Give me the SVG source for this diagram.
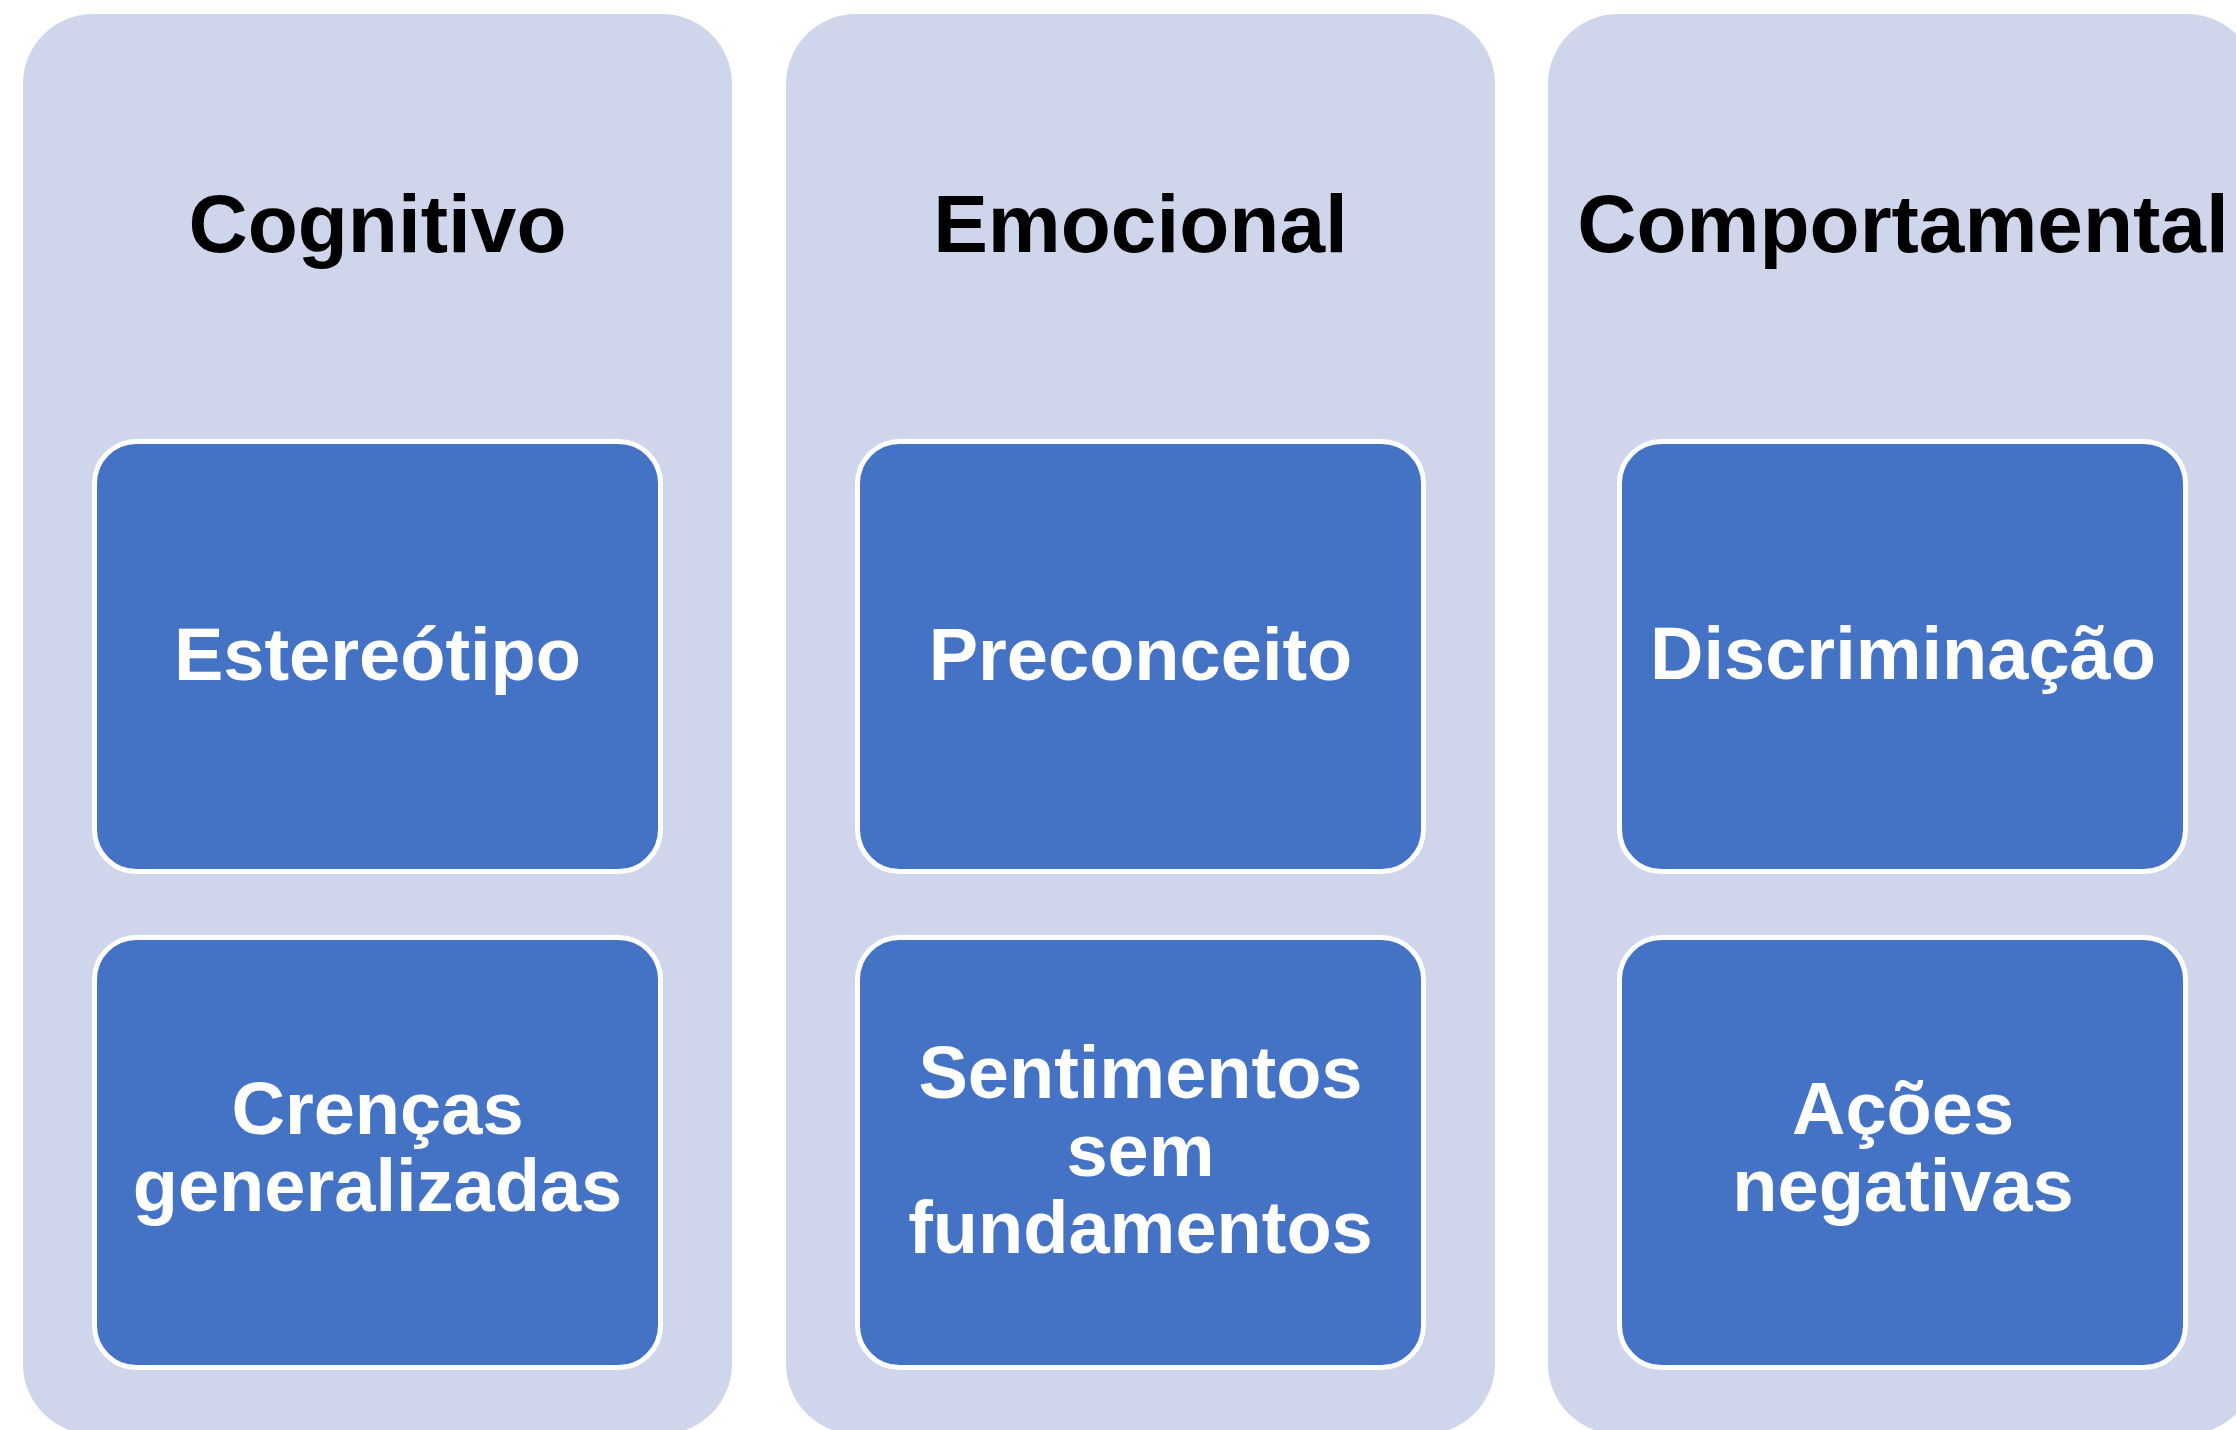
<svg xmlns="http://www.w3.org/2000/svg" width="2236" height="1430" viewBox="0 0 2236 1430">
<style>
.col{fill:#CFD5EA;}
.box{fill:#4472C4;stroke:#FFFFFF;stroke-width:5;}
.hdr{font-family:"Liberation Sans",Arial,sans-serif;font-weight:bold;font-size:82px;fill:#000000;text-anchor:middle;}
.lbl{font-family:"Liberation Sans",Arial,sans-serif;font-weight:bold;font-size:74px;fill:#FFFFFF;text-anchor:middle;}
</style>
<rect width="2236" height="1430" fill="#FFFFFF"/>
<g id="col-cognitivo">
<rect class="col" x="23" y="14" width="709" height="1420" rx="70" ry="70"/>
<text class="hdr" x="377.5" y="252">Cognitivo</text>
</g>
<g id="col-emocional">
<rect class="col" x="786" y="14" width="709" height="1420" rx="70" ry="70"/>
<text class="hdr" x="1140.5" y="252">Emocional</text>
</g>
<g id="col-comportamental">
<rect class="col" x="1548" y="14" width="709" height="1420" rx="70" ry="70"/>
<text class="hdr" x="1903" y="252">Comportamental</text>
</g>
<g id="connectors"></g>
<g id="node-estereotipo">
<rect class="box" x="94.5" y="441.5" width="566" height="430" rx="42" ry="42"/>
<text class="lbl" x="377.5" y="680">Estereótipo</text>
</g>
<g id="node-crencas">
<rect class="box" x="94.5" y="937.5" width="566" height="430" rx="42" ry="42"/>
<text class="lbl" x="377.5" y="1134">Crenças</text>
<text class="lbl" x="377.5" y="1211">generalizadas</text>
</g>
<g id="node-preconceito">
<rect class="box" x="857.5" y="441.5" width="566" height="430" rx="42" ry="42"/>
<text class="lbl" x="1140.5" y="680">Preconceito</text>
</g>
<g id="node-sentimentos">
<rect class="box" x="857.5" y="937.5" width="566" height="430" rx="42" ry="42"/>
<text class="lbl" x="1140.5" y="1098">Sentimentos</text>
<text class="lbl" x="1140.5" y="1176">sem</text>
<text class="lbl" x="1140.5" y="1253">fundamentos</text>
</g>
<g id="node-discriminacao">
<rect class="box" x="1619.5" y="441.5" width="566" height="430" rx="42" ry="42"/>
<text class="lbl" x="1903" y="679">Discriminação</text>
</g>
<g id="node-acoes">
<rect class="box" x="1619.5" y="937.5" width="566" height="430" rx="42" ry="42"/>
<text class="lbl" x="1903" y="1134">Ações</text>
<text class="lbl" x="1903" y="1211">negativas</text>
</g>
</svg>
